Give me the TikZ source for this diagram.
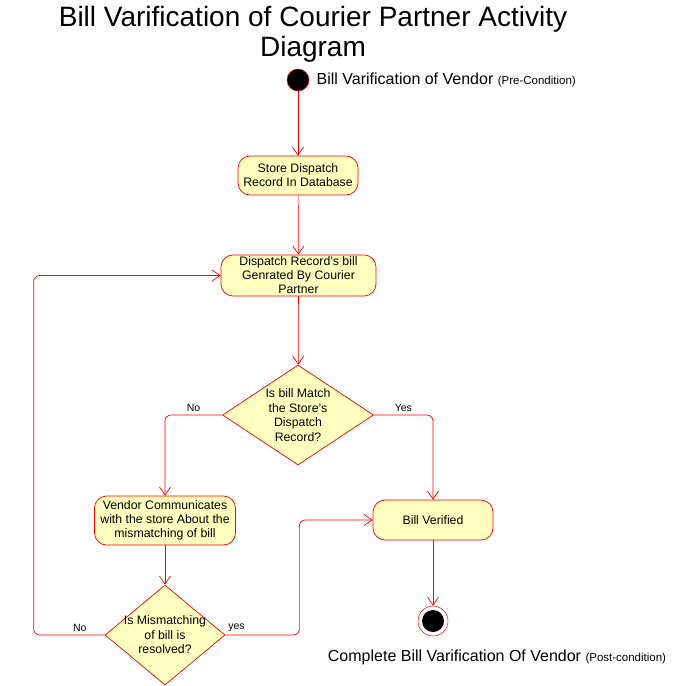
\documentclass[tikz,border=0pt]{standalone}
\usepackage{fontspec}
\setmainfont{Liberation Sans}
\usetikzlibrary{arrows.meta, shapes.geometric}

\definecolor{notecolor}{RGB}{255,255,192}

\tikzset{
    activity/.style={rectangle, rounded corners=12pt, draw=red, fill=notecolor,
        align=center, inner sep=2pt, font=\fontsize{12.3}{14}\selectfont},
    decision/.style={diamond, draw=red, fill=notecolor, inner sep=0pt},
    question/.style={align=center, font=\fontsize{12.3}{14.5}\selectfont},
    flow/.style={draw=red, ->},
    guard/.style={font=\fontsize{10.5}{12}\selectfont},
}

\begin{document}
\begin{tikzpicture}[>={Straight Barb[length=8pt,width=11pt]}, x=1pt, y=-1pt, line width=0.7pt]

    \useasboundingbox (0,0) rectangle (686,686);

    %%% Title
    \node (title) [align=center, font=\fontsize{28}{30}\selectfont] at (313,34)
        {Bill Varification of Courier Partner Activity\\Diagram};

    %%% Start
    \node (start) [circle, fill=black, draw=red, line width=0.5pt, minimum size=22pt, inner sep=0pt] at (298,80) {};
    \node (pre) [anchor=west, font=\fontsize{16}{18}\selectfont] at (313,80)
        {Bill Varification of Vendor {\fontsize{11.5}{12}\selectfont(Pre-Condition)}};

    %%% Activities
    \node (store) [activity, minimum width=120pt, minimum height=39pt] at (298,175.5)
        {Store Dispatch\\Record In Database};
    \node (bill) [activity, minimum width=155pt, minimum height=39pt] at (298.5,275.5)
        {Dispatch Record's bill\\Genrated By Courier\\Partner};
    \node (communicate) [activity, minimum width=141pt, minimum height=49pt] at (165,520.5)
        {Vendor Communicates\\with the store About the\\mismatching of bill};
    \node (verified) [activity, minimum width=120pt, minimum height=40pt] at (433,520)
        {Bill Verified};

    %%% Decisions
    \node (match) [decision, minimum width=151pt, minimum height=100pt,
        label={[question]center:Is bill Match\\the Store's\\Dispatch\\Record?}] at (298,415) {};
    \node (resolved) [decision, minimum width=120pt, minimum height=100pt,
        label={[question]center:Is Mismatching\\of bill is\\resolved?}] at (165,635) {};

    %%% End
    \node (end) [circle, draw=red, fill=white, line width=0.5pt, minimum size=30pt, inner sep=0pt,
        path picture={\fill[black] (path picture bounding box.center) circle (11pt);}] at (433,621) {};
    \node (post) [font=\fontsize{16}{18}\selectfont] at (497,657)
        {Complete Bill Varification Of Vendor {\fontsize{11.5}{12}\selectfont(Post-condition)}};

    %%% Control flow
    \draw[flow] (start) -- (store);
    \draw[flow] (store) -- (bill);
    \draw[flow] (bill) -- (match);
    \draw[flow, rounded corners=6pt] (match.west) -| node[guard, above, pos=0.25] {No} (communicate.north);
    \draw[flow, rounded corners=6pt] (match.east) -| node[guard, above, pos=0.25] {Yes} (verified.north);
    \draw[flow] (communicate) -- (resolved);
    \draw[flow, rounded corners=6pt] (resolved.west) -- node[guard, above, pos=0.35] {No} ++(-71,0) |- (bill.west);
    \draw[flow, rounded corners=6pt] (resolved.east) -- node[guard, above, pos=0.15] {yes} ++(74,0) |- (verified.west);
    \draw[flow] (verified) -- (end);

\end{tikzpicture}
\end{document}
